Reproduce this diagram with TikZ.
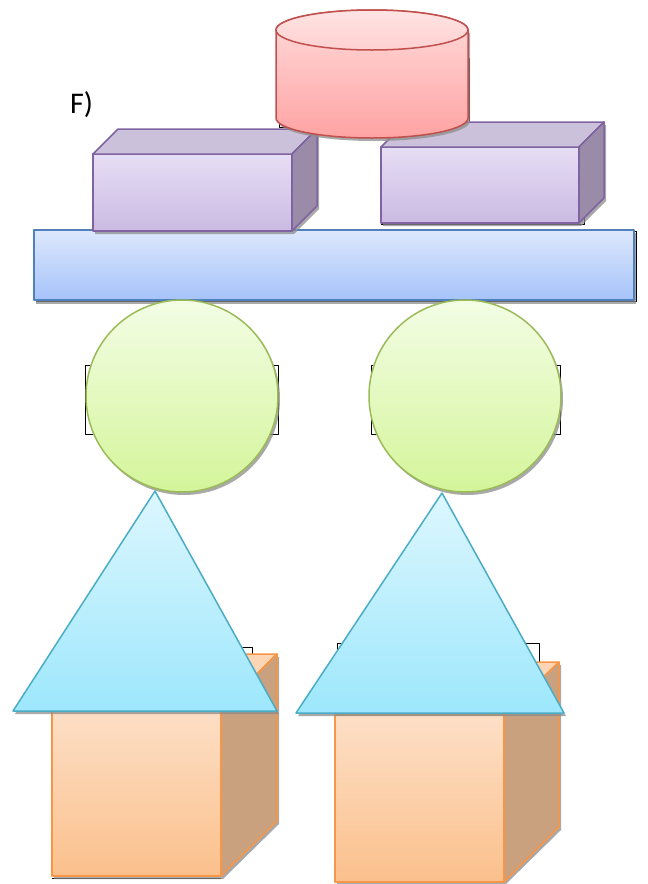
\documentclass[tikz,border=0pt]{standalone}
\usepackage{fontspec}
\setmainfont{Carlito}
\definecolor{redS}{HTML}{C0504D}
\definecolor{purS}{HTML}{8064A2}
\definecolor{bluS}{HTML}{4F81BD}
\definecolor{grnS}{HTML}{9BBB59}
\definecolor{cyaS}{HTML}{4BACC6}
\definecolor{orgS}{HTML}{F79646}
\begin{document}
\begin{tikzpicture}[x=1pt,y=-1pt,line join=round,
  shad/.style={fill=black!45,draw=none,opacity=0.75},
  frm/.style={draw=black,line width=1pt,fill=none},
  redf/.style={draw=redS,line width=1.5pt,top color=red!14!white,bottom color={rgb,255:red,255;green,163;blue,163}},
  redtop/.style={draw=redS,line width=1.5pt,top color={rgb,255:red,255;green,228;blue,228},bottom color={rgb,255:red,255;green,208;blue,208}},
  purf/.style={draw=purS,line width=1.5pt,top color={rgb,255:red,230;green,222;blue,244},bottom color={rgb,255:red,203;green,186;blue,227}},
  purt/.style={draw=purS,line width=1.5pt,fill={rgb,255:red,204;green,193;blue,218}},
  purs/.style={draw=purS,line width=1.5pt,fill={rgb,255:red,154;green,139;blue,168}},
  bluf/.style={draw=bluS,line width=1.5pt,top color={rgb,255:red,221;green,232;blue,253},bottom color={rgb,255:red,166;green,195;blue,250}},
  grnf/.style={draw=grnS,line width=1.5pt,top color={rgb,255:red,243;green,253;blue,229},bottom color={rgb,255:red,212;green,245;blue,154}},
  cyaf/.style={draw=cyaS,line width=1.5pt,top color={rgb,255:red,221;green,247;blue,254},bottom color={rgb,255:red,157;green,231;blue,252}},
  orgf/.style={draw=orgS,line width=1.5pt,top color={rgb,255:red,253;green,223;blue,198},bottom color={rgb,255:red,251;green,192;blue,140}},
  orgt/.style={draw=orgS,line width=1.5pt,fill={rgb,255:red,252;green,213;blue,180}},
  orgs/.style={draw=orgS,line width=1.5pt,fill={rgb,255:red,201;green,161;blue,127}}]
\useasboundingbox (0,0) rectangle (648,884);

% label
\node[anchor=base west,inner sep=0pt,font=\fontsize{30}{36}\selectfont] (lbl) at (70,113) {F)};

% frames behind
\draw[frm] (279,58) rectangle (469,127);
\draw[frm] (381,147) rectangle (584,224);
\draw[frm] (36,231) rectangle (636,301);
\draw[frm] (85,365) rectangle (278,434);
\draw[frm] (371,365) rectangle (560,434);
\draw[frm] (140,647) -- (252,647) -- (252,700);
\draw[frm] (52,878) -- (221,878);
\draw[frm] (337,700) -- (337,643) -- (539,643) -- (539,700);
\draw[frm] (337,884) -- (504,884);

% blue bar
\fill[shad] (36,233) rectangle (636,304);
\draw[bluf] (34,230) rectangle (634,300);

% purple boxes
\fill[shad] (95,157) -- (120,132) -- (319,132) -- (319,209) -- (294,234) -- (95,234) -- cycle;
\draw[purf] (93,154) rectangle (292,231);
\draw[purt] (93,154) -- (118,129) -- (317,129) -- (292,154) -- cycle;
\draw[purs] (292,154) -- (317,129) -- (317,206) -- (292,231) -- cycle;

\fill[shad] (383,150) -- (408,125) -- (606,125) -- (606,201) -- (581,226) -- (383,226) -- cycle;
\draw[purf] (381,147) rectangle (579,223);
\draw[purt] (381,147) -- (406,122) -- (604,122) -- (579,147) -- cycle;
\draw[purs] (579,147) -- (604,122) -- (604,198) -- (579,223) -- cycle;

% cylinder
\fill[shad] (278,33) -- (278,121) arc[start angle=180,end angle=360,x radius=96pt,y radius=20pt] -- (470,33) -- cycle;
\draw[redf] (276,30) -- (276,118) arc[start angle=180,end angle=360,x radius=96pt,y radius=20pt] -- (468,30) arc[start angle=0,end angle=180,x radius=96pt,y radius=20pt] -- cycle;
\draw[redtop] (372,30) ellipse[x radius=96pt,y radius=20pt];

% circles
\fill[shad] (184,399) circle[radius=96pt];
\draw[grnf] (182,396) circle[radius=96pt];
\fill[shad] (467,399) circle[radius=96pt];
\draw[grnf] (465,396) circle[radius=96pt];

% cubes
\fill[shad] (54,713) -- (110,657) -- (279,657) -- (279,824) -- (223,879) -- (54,879) -- cycle;
\draw[orgf] (52,710) rectangle (221,876);
\draw[orgt] (52,710) -- (108,654) -- (277,654) -- (221,710) -- cycle;
\draw[orgs] (221,710) -- (277,654) -- (277,821) -- (221,876) -- cycle;

\fill[shad] (337,718) -- (392,665) -- (561,665) -- (561,830) -- (506,884) -- (337,884) -- cycle;
\draw[orgf] (335,715) rectangle (504,882);
\draw[orgt] (335,715) -- (390,662) -- (559,662) -- (504,715) -- cycle;
\draw[orgs] (504,715) -- (559,662) -- (559,827) -- (504,882) -- cycle;

% triangles
\fill[shad] (157,494) -- (279,714) -- (15,714) -- cycle;
\draw[cyaf] (155,491) -- (277,711) -- (13,711) -- cycle;
\fill[shad] (444,496) -- (566,716) -- (298,716) -- cycle;
\draw[cyaf] (442,493) -- (564,713) -- (296,713) -- cycle;
\end{tikzpicture}
\end{document}
